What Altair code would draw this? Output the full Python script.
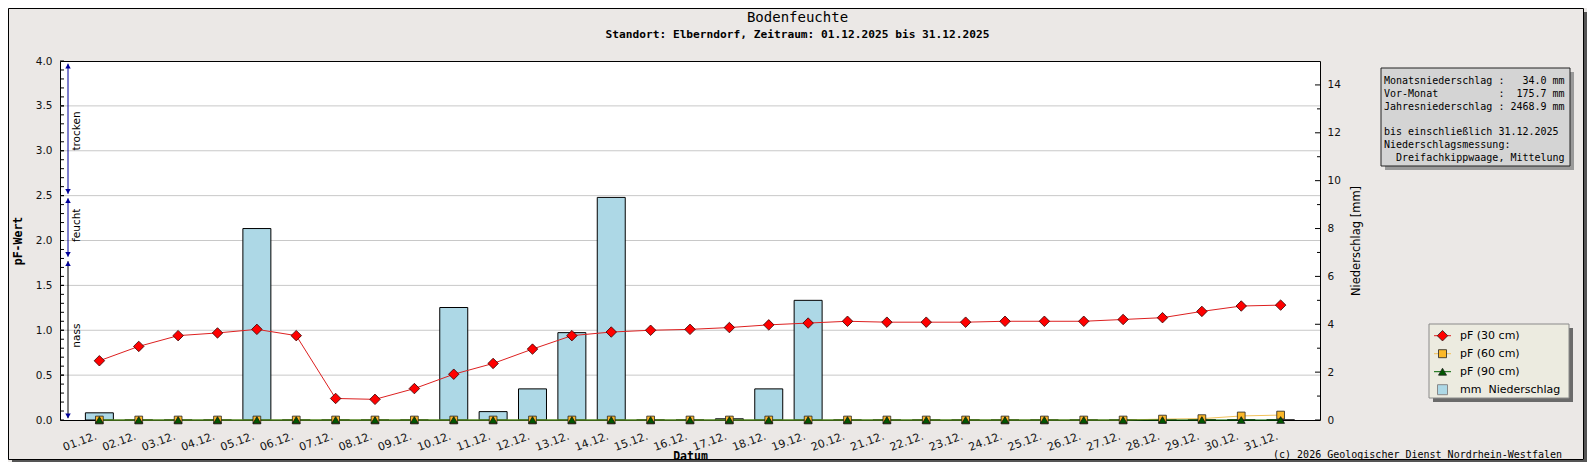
import altair as alt
import pandas as pd

# ---------------- data ----------------
days = ["01.12.", "02.12.", "03.12.", "04.12.", "05.12.", "06.12.", "07.12.", "08.12.",
        "09.12.", "10.12.", "11.12.", "12.12.", "13.12.", "14.12.", "15.12.", "16.12.",
        "17.12.", "18.12.", "19.12.", "20.12.", "21.12.", "22.12.", "23.12.", "24.12.",
        "25.12.", "26.12.", "27.12.", "28.12.", "29.12.", "30.12.", "31.12."]
pf30 = [0.66, 0.82, 0.94, 0.97, 1.01, 0.94, 0.24, 0.23, 0.35, 0.51, 0.63, 0.79, 0.94, 0.98,
        1.00, 1.01, 1.03, 1.06, 1.08, 1.10, 1.09, 1.09, 1.09, 1.10, 1.10, 1.10, 1.12, 1.14,
        1.21, 1.27, 1.28]
pf60 = [0.0, 0.0, 0.0, 0.0, 0.0, 0.0, 0.0, 0.0, 0.0, 0.0, 0.0, 0.0, 0.0, 0.0, 0.0, 0.0,
        0.0, 0.0, 0.0, 0.0, 0.0, 0.0, 0.0, 0.0, 0.0, 0.0, 0.0, 0.01, 0.015, 0.045, 0.055]
pf90 = [0.0, 0.0, 0.0, 0.0, 0.0, 0.0, 0.0, 0.0, 0.0, 0.0, 0.0, 0.0, 0.0, 0.0, 0.0, 0.0,
        0.0, 0.0, 0.0, 0.0, 0.0, 0.0, 0.0, 0.0, 0.0, 0.0, 0.0, 0.0, 0.0, 0.0, 0.0]
precip = [0.3, 0.0, 0.0, 0.0, 8.0, 0.0, 0.0, 0.0, 0.0, 4.7, 0.35, 1.3, 3.65, 9.3, 0.0, 0.0,
          0.05, 1.3, 5.0, 0.0, 0.0, 0.0, 0.0, 0.0, 0.0, 0.0, 0.0, 0.0, 0.0, 0.0, 0.0]

pf_labels = [0.0, 0.5, 1.0, 1.5, 2.0, 2.5, 3.0, 3.5, 4.0]
pf_grid = [0.5, 1.0, 1.5, 2.0, 2.5, 3.0, 3.5]
pf_minor = [i / 10 for i in range(1, 40)]
pr_major = [0, 2, 4, 6, 8, 10, 12, 14]
pr_minor = [1, 3, 5, 7, 9, 11, 13]

# zone arrows on the pF axis
zone_names = ["nass", "feucht", "trocken"]
zone_lo = [0.02, 1.82, 2.52]
zone_hi = [1.77, 2.47, 3.97]
zone_text_y = [0.94, 2.17, 3.22]
zone_line_color = ["#000000", "#000099", "#000099"]

info_lines = ["Monatsniederschlag :   34.0 mm",
              "Vor-Monat          :  175.7 mm",
              "Jahresniederschlag : 2468.9 mm",
              "",
              "bis einschließlich 31.12.2025",
              "Niederschlagsmessung:",
              "  Dreifachkippwaage, Mittelung"]

legend_labels = ["pF (30 cm)", "pF (60 cm)", "pF (90 cm)", "mm  Niederschlag"]
legend_shapes = ["diamond", "square", "triangle-up", "square"]
legend_fill = ["#ff0000", "#fbb829", "#005800", "#add8e6"]
legend_line = ["#dd2020", "#f2c25a", "#006400", None]

title = "Bodenfeuchte"
subtitle = "Standort: Elberndorf, Zeitraum: 01.12.2025 bis 31.12.2025"
copyright_text = "(c) 2026 Geologischer Dienst Nordrhein-Westfalen"

# ---------------- layout ----------------
W, H = 1260, 359
MONO = "DejaVu Sans Mono"
SANS = "DejaVu Sans"
CHAR_W = 6.02  # width of one DejaVu Sans Mono glyph at 10px

df = pd.DataFrame({"day": days, "pf30": pf30, "pf60": pf60, "pf90": pf90, "precip": precip})
one = pd.DataFrame({"k": [0]})


def nb(s):
    return s.replace(" ", "\u00a0")


X = alt.X("day:O", sort=days,
          scale=alt.Scale(type="band", paddingInner=0, paddingOuter=0.5),
          axis=alt.Axis(title="Datum", labelAngle=340, labelAlign="right", labelBaseline="top",
                        ticks=False, domain=False, grid=False, labelPadding=10, labelOffset=-5,
                        labelFont=SANS, labelFontSize=11, labelOverlap=False,
                        titleFont=MONO, titleFontWeight="bold", titleFontSize=11.5,
                        titleX=W / 2, titleY=36, titleAlign="center", titleBaseline="middle"))

pf_scale = alt.Scale(domain=[0, 4], nice=False)
pr_scale = alt.Scale(domain=[0, 15], nice=False)

pf_axis = alt.Axis(orient="left", values=pf_labels, format=".1f", ticks=False, domain=False,
                   grid=False, labelPadding=8, labelFont=SANS, labelFontSize=10.5,
                   title="pF-Wert", titleFont=MONO, titleFontWeight="bold", titleFontSize=11.5,
                   titleX=-42, titleY=H / 2, titleAngle=270, titleAlign="center",
                   titleBaseline="middle")
pr_axis = alt.Axis(orient="right", values=pr_major, ticks=False, domain=False, grid=False,
                   labelPadding=7, labelFont=SANS, labelFontSize=10.5,
                   title="Niederschlag [mm]", titleFont=SANS, titleFontWeight="normal",
                   titleFontSize=11.5, titleX=36.7, titleY=H / 2, titleAngle=270,
                   titleAlign="center", titleBaseline="middle")


def PF(field, axis=None):
    return alt.Y(field, scale=pf_scale, axis=axis)


def PR(field, axis=None):
    return alt.Y(field, scale=pr_scale, axis=axis)


# grid
grid = alt.Chart(pd.DataFrame({"v": pf_grid})).mark_rule(color="#c8c8c8", strokeWidth=1).encode(
    y=PF("v:Q", pf_axis))

# precipitation
bars = alt.Chart(df).mark_bar(width=alt.RelativeBandSize(0.711), fill="#add8e6",
                              stroke="#000000", strokeWidth=1).encode(
    x=X, y=PR("precip:Q", pr_axis))
pr_maj_ticks = alt.Chart(pd.DataFrame({"v": pr_major})).mark_rule(color="#000").encode(
    y=PR("v:Q"), x=alt.value(W - 5), x2=alt.value(W))
pr_min_ticks = alt.Chart(pd.DataFrame({"v": pr_minor})).mark_rule(color="#000").encode(
    y=PR("v:Q"), x=alt.value(W - 3), x2=alt.value(W))

# pF series
base = alt.Chart(df)
line60 = base.mark_line(color="#f2c25a", strokeWidth=1).encode(x=X, y=PF("pf60:Q"))
pts60 = base.mark_point(shape="square", filled=True, fill="#fbb829", stroke="#222",
                        strokeWidth=0.8, size=60, opacity=1).encode(x=X, y=PF("pf60:Q"))
line90 = base.mark_line(color="#006400", strokeWidth=1).encode(x=X, y=PF("pf90:Q"))
pts90 = base.mark_point(shape="triangle-up", filled=True, fill="#005800", stroke="#111",
                        strokeWidth=0.8, size=60, opacity=1).encode(x=X, y=PF("pf90:Q"))
line30 = base.mark_line(color="#dd2020", strokeWidth=1).encode(x=X, y=PF("pf30:Q"))
pts30 = base.mark_point(shape="diamond", filled=True, fill="#ff0000", stroke="#330000",
                        strokeWidth=0.8, size=110, opacity=1).encode(x=X, y=PF("pf30:Q"))

pf_ticks = alt.Chart(pd.DataFrame({"v": pf_minor + pf_labels})).mark_rule(color="#000").encode(
    y=PF("v:Q"), x=alt.value(0), x2=alt.value(4))

zones = pd.DataFrame({"name": zone_names, "lo": zone_lo, "hi": zone_hi,
                      "ty": zone_text_y, "col": zone_line_color})
zone_lines = alt.Chart(zones).mark_rule(strokeWidth=1).encode(
    x=alt.value(8), y=PF("lo:Q"), y2="hi:Q", color=alt.Color("col:N", scale=None))
zone_up = alt.Chart(zones).mark_point(shape="triangle-up", filled=True, color="#000099",
                                      size=30, opacity=1, yOffset=2.4).encode(
    x=alt.value(8), y=PF("hi:Q"))
zone_down = alt.Chart(zones).mark_point(shape="triangle-down", filled=True, color="#000099",
                                        size=30, opacity=1, yOffset=-2.4).encode(
    x=alt.value(8), y=PF("lo:Q"))
zone_text = alt.Chart(zones).mark_text(angle=270, align="center", baseline="middle",
                                       font=SANS, fontSize=10.5, color="#000").encode(
    x=alt.value(17), y=PF("ty:Q"), text="name:N")


# ---------------- decorations ----------------
def rect(x1, x2, y1, y2, **kw):
    return alt.Chart(one).mark_rect(**kw).encode(
        x=alt.value(x1), x2=alt.value(x2), y=alt.value(y1), y2=alt.value(y2))


def text(x, y, s, **kw):
    return alt.Chart(one).mark_text(**kw).encode(x=alt.value(x), y=alt.value(y),
                                                 text=alt.value(s))


deco = []
# outer frame with shadow
deco.append(rect(-51.5, 1523.5, -52.5, 398.5, fill=None, fillOpacity=0, stroke="#000",
                 strokeWidth=1))
deco.append(rect(1524, 1527, -49, 401, fill="#555555"))
deco.append(rect(-48, 1527, 399, 401, fill="#555555"))

# titles
deco.append(text(737.5, -43, title, font=MONO, fontSize=14, align="center",
                 baseline="middle", color="#000"))
deco.append(text(737.5, -26, subtitle, font=MONO, fontSize=11.2, fontWeight="bold",
                 align="center", baseline="middle", color="#000"))

# info box
deco.append(rect(1325, 1514, 11, 109, fill="#9a9a9a"))
deco.append(rect(1321, 1510, 7, 105, fill="#d4d4d4", stroke="#222", strokeWidth=1))
for i, line in enumerate(info_lines):
    if line.strip():
        lead = len(line) - len(line.lstrip(" "))
        deco.append(text(1324 + lead * CHAR_W, 19.7 + 12.9 * i, nb(line.lstrip(" ")),
                         font=MONO, fontSize=10, align="left", baseline="middle",
                         color="#000"))

# legend box
deco.append(rect(1373, 1513, 267, 341, fill="#6a6a6a"))
deco.append(rect(1369, 1509, 263, 337, fill="#ecebe0", stroke="#8a8a8a", strokeWidth=1))
for i, lab in enumerate(legend_labels):
    ly = 274.7 + 18 * i
    if legend_line[i]:
        deco.append(alt.Chart(one).mark_rule(color=legend_line[i], strokeWidth=1).encode(
            x=alt.value(1374), x2=alt.value(1391), y=alt.value(ly)))
        deco.append(alt.Chart(one).mark_point(
            shape=legend_shapes[i], filled=True, fill=legend_fill[i], stroke="#222",
            strokeWidth=0.8, size=110 if i == 0 else 64, opacity=1).encode(
            x=alt.value(1382.5), y=alt.value(ly)))
    else:
        deco.append(alt.Chart(one).mark_point(
            shape="square", filled=True, fill=legend_fill[i], stroke="#888",
            strokeWidth=1, size=100, opacity=1).encode(x=alt.value(1382.5), y=alt.value(ly)))
    deco.append(text(1400, ly, nb(lab), font=SANS, fontSize=11, align="left",
                     baseline="middle", color="#000"))

# copyright
deco.append(text(1502, 393.5, copyright_text, font=MONO, fontSize=10, align="right",
                 baseline="middle", color="#000"))

chart = alt.layer(
    grid, bars, pr_maj_ticks, pr_min_ticks,
    line60, line90, line30, pts60, pts90, pts30, pf_ticks,
    zone_lines, zone_up, zone_down, zone_text, *deco
).resolve_scale(
    y="independent"
).properties(
    width=W, height=H,
    autosize=alt.AutoSizeParams(type="none"),
    padding={"left": 52, "top": 53, "right": 267, "bottom": 42},
    background="#ebe8e6",
).configure_view(
    stroke="#000000", strokeWidth=1, fill="white"
).configure_axis(
    labelColor="#111111", titleColor="#000000"
)

chart.save("out.html", embed_options={"renderer": "svg", "actions": False})
